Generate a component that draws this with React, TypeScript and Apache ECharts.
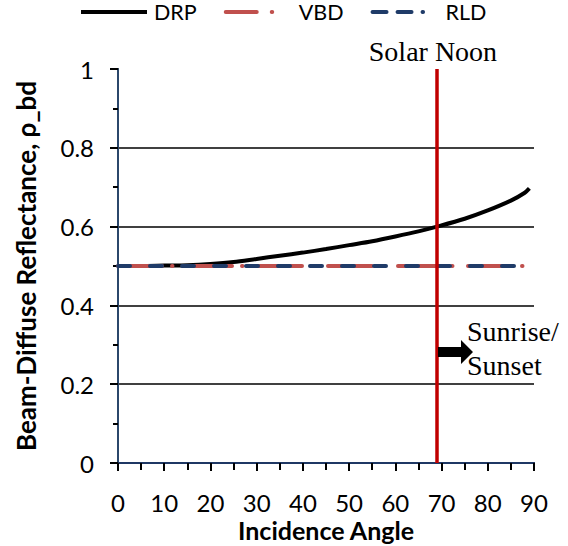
import React, { useEffect, useRef } from "react";
import * as echarts from "echarts";

const angles = [0, 5, 10, 15, 20, 25, 30, 35, 40, 45, 50, 55, 60, 65, 69, 75, 80, 85, 88, 89];
const drpValues = [0.5, 0.5, 0.501, 0.502, 0.505, 0.51, 0.518, 0.526, 0.534, 0.543, 0.553, 0.563, 0.575, 0.588, 0.6, 0.62, 0.641, 0.666, 0.686, 0.697];
const flatAngles = [0, 89];
const vbdValues = [0.5, 0.5];
const rldValues = [0.5, 0.5];
const solarNoonAngle = 69;
const seriesNames = ["DRP", "VBD", "RLD"];
const xTicks = [0, 10, 20, 30, 40, 50, 60, 70, 80, 90];
const yTicks = [0, 0.2, 0.4, 0.6, 0.8, 1];

const SANS = "Lato, Carlito, Calibri, sans-serif";
const SERIF = '"Liberation Serif", "Times New Roman", serif';

export default function App() {
  const ref = useRef<HTMLDivElement>(null);
  useEffect(() => {
    if (!ref.current) return;
    const chart = echarts.init(ref.current, null, { renderer: "svg" });
    const pair = (xs: number[], ys: number[]) => xs.map((x, i) => [x, ys[i]]);
    const RED = "#C0504D";
    const BLUE = "#1F3B68";
    const hidden = { opacity: 0, borderWidth: 0 };
    chart.setOption({
      animation: false,
      backgroundColor: "#fff",
      grid: { left: 118, right: 34, top: 69, bottom: 83, containLabel: false, outerBoundsMode: "none" },
      legend: {
        left: 79,
        top: 1,
        padding: 0,
        itemWidth: 66,
        itemHeight: 14,
        itemGap: 27,
        itemStyle: hidden,
        textStyle: { fontFamily: SANS, fontSize: 21.5, color: "#000", padding: [0, 0, 0, 2] },
        data: [
          { name: seriesNames[0], itemStyle: hidden, lineStyle: { color: "#000", width: 4, type: "solid" } },
          { name: seriesNames[1], itemStyle: hidden, lineStyle: { color: RED, width: 4, type: [31, 15, 0.5, 30], cap: "round" } },
          { name: seriesNames[2], itemStyle: hidden, lineStyle: { color: BLUE, width: 4, type: [14, 11, 14, 11, 0.5, 30], cap: "round" } },
        ],
      },
      xAxis: [
        {
          type: "value",
          min: 0,
          max: 90,
          interval: 10,
          name: "Incidence Angle",
          nameLocation: "middle",
          nameGap: 55,
          nameMoveOverlap: false,
          nameTextStyle: { fontFamily: SANS, fontSize: 25, lineHeight: 24, fontWeight: "bold", color: "#000" },
          axisLine: { show: true, onZero: false, lineStyle: { color: "#000", width: 2 } },
          axisTick: { show: true, length: 8, lineStyle: { color: "#000", width: 2 } },
          minorTick: { show: true, splitNumber: 2, length: 7, lineStyle: { color: "#000", width: 2 } },
          axisLabel: {
            fontFamily: SANS,
            fontSize: 24,
            lineHeight: 20,
            color: "#000",
            margin: 29,
            formatter: (v: number) => (xTicks.includes(v) ? String(v) : ""),
          },
          splitLine: { show: false },
        },
        {
          type: "value",
          position: "top",
          min: 0,
          max: 90,
          axisLine: { show: true, lineStyle: { color: "#1F3864", width: 2 } },
          axisTick: { show: false },
          axisLabel: { show: false },
          splitLine: { show: false },
        },
      ],
      yAxis: [
        {
          type: "value",
          min: 0,
          max: 1,
          interval: 0.2,
          name: "Beam-Diffuse Reflectance, ρ_bd",
          nameLocation: "middle",
          nameGap: 79,
          nameMoveOverlap: false,
          nameTextStyle: { fontFamily: SANS, fontSize: 26, fontWeight: "bold", color: "#000" },
          axisLine: { show: true, onZero: false, lineStyle: { color: "#000", width: 2 } },
          axisTick: { show: true, length: 8, lineStyle: { color: "#000", width: 2 } },
          minorTick: { show: true, splitNumber: 2, length: 5, lineStyle: { color: "#000", width: 2 } },
          axisLabel: {
            fontFamily: SANS,
            fontSize: 24,
            color: "#000",
            margin: 24,
            formatter: (v: number) => {
              const t = yTicks.find((k) => Math.abs(k - v) < 1e-9);
              return t === undefined ? "" : String(t);
            },
          },
          splitLine: { show: true, showMinLine: false, showMaxLine: false, lineStyle: { color: "#000", width: 1.5 } },
        },
        {
          type: "value",
          position: "right",
          min: 0,
          max: 1,
          axisLine: { show: true, lineStyle: { color: "#3A5F8F", width: 1.5 } },
          axisTick: { show: false },
          axisLabel: { show: false },
          splitLine: { show: false },
        },
      ],
      series: [
        {
          name: seriesNames[0],
          type: "line",
          data: pair(angles, drpValues),
          smooth: 0.3,
          symbol: "none",
          lineStyle: { color: "#000", width: 4 },
          itemStyle: { color: "#000" },
          z: 2,
        },
        {
          name: seriesNames[1],
          type: "line",
          data: pair(flatAngles, vbdValues),
          symbol: "none",
          lineStyle: { color: RED, width: 4, type: [44, 10, 0.5, 15.5], cap: "round" },
          itemStyle: { color: RED },
          z: 3,
        },
        {
          name: seriesNames[2],
          type: "line",
          data: pair(flatAngles, rldValues),
          symbol: "none",
          lineStyle: { color: BLUE, width: 4, type: [12, 20], cap: "round" },
          itemStyle: { color: BLUE },
          z: 4,
          markLine: {
            silent: true,
            symbol: "none",
            animation: false,
            lineStyle: { color: "#C00000", width: 3.5, type: "solid" },
            label: {
              show: true,
              position: "end",
              formatter: "Solar Noon",
              fontFamily: SERIF,
              fontSize: 28,
              color: "#000",
              distance: 4,
              offset: [-4, 0],
            },
            data: [{ xAxis: solarNoonAngle }],
          },
        },
      ],
      graphic: [
        {
          type: "polygon",
          shape: {
            points: [
              [438, 347],
              [461, 347],
              [461, 340],
              [473, 352],
              [461, 364],
              [461, 357],
              [438, 357],
            ],
          },
          style: { fill: "#000" },
          z: 10,
        },
        {
          type: "text",
          left: 467,
          top: 314,
          style: {
            text: "Sunrise/\nSunset",
            font: `28px ${SERIF}`,
            fill: "#000",
            lineHeight: 34,
          },
          z: 10,
        },
      ],
    });
    return () => chart.dispose();
  }, []);
  return (
    <div
      ref={ref}
      style={{ position: "absolute", left: 0, top: 0, width: 568, height: 546, background: "#fff" }}
    />
  );
}
